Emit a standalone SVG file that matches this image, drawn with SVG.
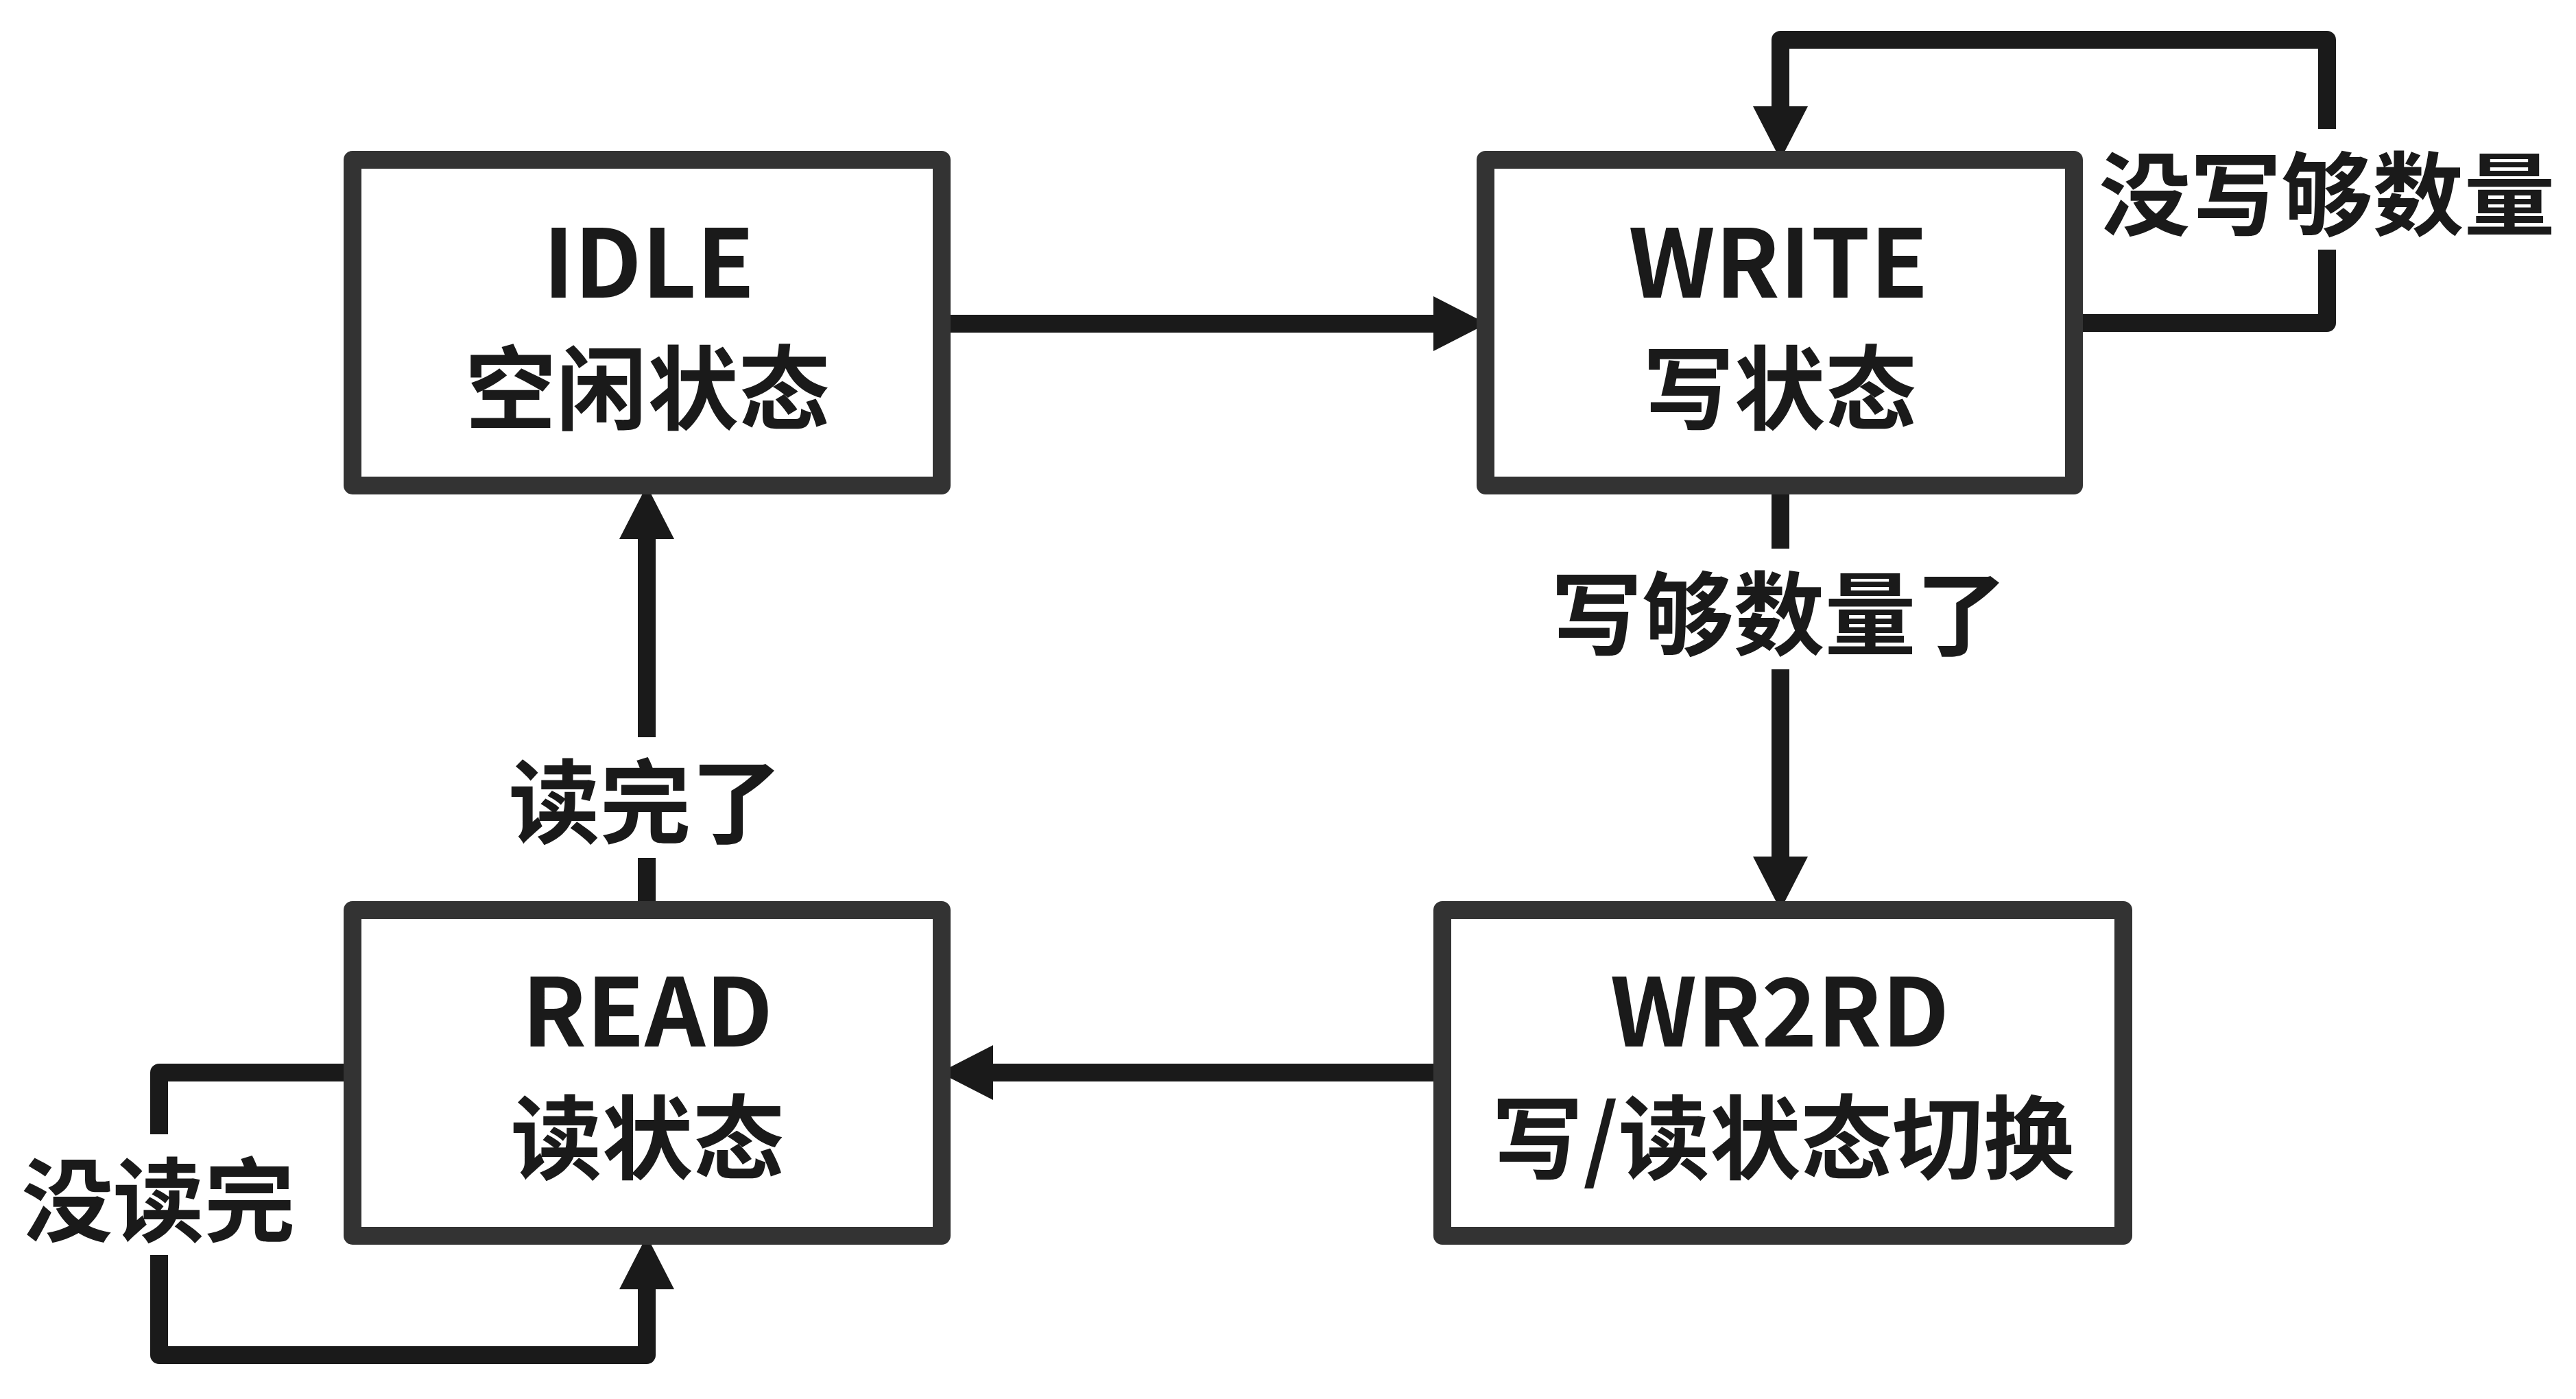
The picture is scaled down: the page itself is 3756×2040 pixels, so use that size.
<svg xmlns="http://www.w3.org/2000/svg" width="3756" height="2040" viewBox="0 0 3756 2040">
<style>
.bg{fill:#ffffff}
.node rect.box{fill:#ffffff;stroke:#333333;stroke-width:26;stroke-linejoin:round}
.t{font-family:"Noto Sans CJK SC","Noto Sans",sans-serif;font-weight:bold;font-size:133px;fill:#1a1a1a;text-anchor:middle}
.t.lat{font-size:138px}
.edge{fill:none;stroke:#1a1a1a;stroke-width:26;stroke-linejoin:round}
.lblbg{fill:#ffffff}
</style>
<defs>
<marker id="arr" markerUnits="userSpaceOnUse" viewBox="0 0 78 80" refX="0" refY="40" markerWidth="78" markerHeight="80" orient="auto">
<path d="M0,0 L78,40 L0,80 Z" fill="#1a1a1a"/>
</marker>
</defs>
<rect class="bg" x="0" y="0" width="3756" height="2040"/>
<g id="connectors">
<path class="edge" d="M1373,472 H2090" marker-end="url(#arr)"/>
<path class="edge" d="M3024,471 H3393 V58 H2596 V155" marker-end="url(#arr)"/>
<path class="edge" d="M2596,708 V1249" marker-end="url(#arr)"/>
<path class="edge" d="M2103,1564 H1448" marker-end="url(#arr)"/>
<path class="edge" d="M943,1327 V786" marker-end="url(#arr)"/>
<path class="edge" d="M514,1564 H232 V1976 H943 V1880" marker-end="url(#arr)"/>
<g id="edge-labels">
<rect class="lblbg" x="3050" y="188" width="690" height="176"/>
<text class="t" x="3393" y="333">没写够数量</text>
<rect class="lblbg" x="2250" y="800" width="690" height="176"/>
<text class="t" x="2594" y="945">写够数量了</text>
<rect class="lblbg" x="730" y="1075" width="420" height="176"/>
<text class="t" x="941" y="1219">读完了</text>
<rect class="lblbg" x="20" y="1654" width="424" height="176"/>
<text class="t" x="231" y="1800">没读完</text>
</g>
</g>
<g id="node-idle" class="node">
<rect class="box" x="514" y="233" width="859" height="475"/>
<text class="t lat" x="946" y="434">IDLE</text>
<text class="t" x="944" y="616">空闲状态</text>
</g>
<g id="node-write" class="node">
<rect class="box" x="2166" y="233" width="858" height="475"/>
<text class="t lat" x="2593" y="434">WRITE</text>
<text class="t" x="2595" y="616">写状态</text>
</g>
<g id="node-read" class="node">
<rect class="box" x="514" y="1327" width="859" height="475"/>
<text class="t lat" x="944" y="1526">READ</text>
<text class="t" x="944" y="1709">读状态</text>
</g>
<g id="node-wr2rd" class="node">
<rect class="box" x="2103" y="1327" width="993" height="475"/>
<text class="t lat" x="2595" y="1526">WR2RD</text>
<text class="t" x="2600" y="1709">写/读状态切换</text>
</g>
</svg>
